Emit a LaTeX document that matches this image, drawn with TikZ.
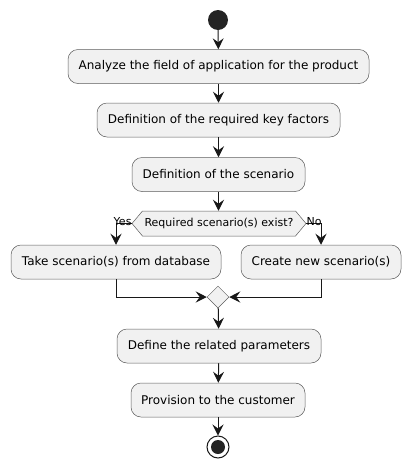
\documentclass[tikz,border=0pt]{standalone}
\usepackage{fontspec}
\setmainfont{DejaVu Sans}
\usetikzlibrary{arrows.meta,shapes.geometric,shapes.symbols}
\definecolor{actfill}{HTML}{F1F1F1}
\definecolor{actline}{HTML}{181818}
\begin{document}
\begin{tikzpicture}[x=1pt,y=-1pt]
\tikzstyle{every node}+=[inner sep=0pt,font=\fontsize{12}{14}\selectfont]
\tikzstyle{action}=[draw=actline!70,line width=0.5pt,fill=actfill,rounded corners=10pt,minimum height=34pt]
\tikzstyle{flow}=[actline,line width=1pt,-{Stealth[length=11pt,width=11pt,inset=4pt]}]
\useasboundingbox (0,0) rectangle (410,469);
\node [circle,fill=actline!95,minimum size=20pt] (start) at (218,20) {};
\node [action,minimum width=301pt] (analyze) at (218.5,66.5) {Analyze the field of application for the product};
\node [action,minimum width=243pt] (keyfac) at (218.5,120) {Definition of the required key factors};
\node [action,minimum width=173pt] (scen) at (218.5,174.5) {Definition of the scenario};
\node [signal,signal to=west and east,signal pointer angle=100,draw=actline!70,line width=0.5pt,fill=actfill,minimum width=174pt,minimum height=25pt,font=\fontsize{11}{13}\selectfont] (exist) at (219,223.5) {Required scenario(s) exist?};
\node [action,minimum width=210pt] (takedb) at (116,262) {Take scenario(s) from database};
\node [action,minimum width=160pt] (create) at (321,262) {Create new scenario(s)};
\node [diamond,draw=actline!70,line width=0.5pt,fill=actfill,minimum size=22pt] (merge) at (218,297) {};
\node [action,minimum width=204pt] (params) at (219,346) {Define the related parameters};
\node [action,minimum width=174pt] (provis) at (218,400) {Provision to the customer};
\node [circle,draw=actline,line width=1pt,fill=white,minimum size=22pt] (stop) at (218,447) {};
\node [circle,fill=actline!95,minimum size=14pt] at (stop) {};
\draw [flow] (start) -- (analyze);
\draw [flow] (analyze) -- (keyfac);
\draw [flow] (keyfac) -- (scen);
\draw [flow] (scen) -- (scen.south |- exist.north);
\draw [flow] (exist.west) -| (takedb.north);
\draw [flow] (exist.east) -| (create.north);
\node [anchor=south east,font=\fontsize{11}{13}\selectfont] at ([yshift=-2pt]exist.west) {Yes};
\node [anchor=south west,font=\fontsize{11}{13}\selectfont] at ([yshift=-2pt]exist.east) {No};
\draw [flow] (takedb.south) |- (merge.west);
\draw [flow] (create.south) |- (merge.east);
\draw [flow] (merge) -- (params);
\draw [flow] (params) -- (provis);
\draw [flow] (provis) -- (stop);
\end{tikzpicture}
\end{document}
